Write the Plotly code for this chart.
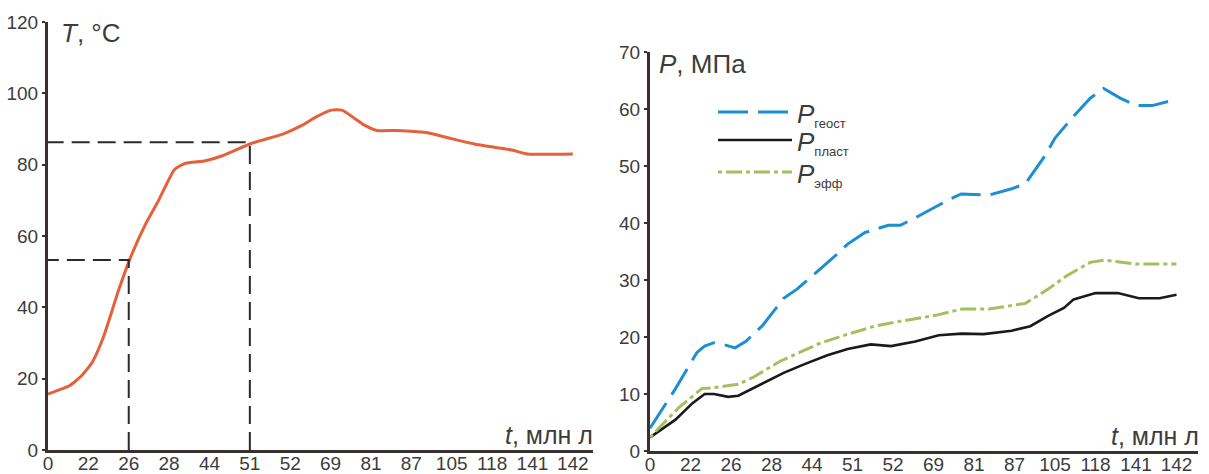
import plotly.graph_objects as go

# ---- data ----
t_labels = ["0", "22", "26", "28", "44", "51", "52", "69", "81", "87", "105", "118", "141", "142"]
t_ticks = list(range(len(t_labels)))  # tick index positions on the time scale

# Temperature curve (x in time-tick units)
T_x = [0, 0.53, 0.83, 1.1, 1.38, 1.74, 2.03, 2.41, 2.74, 3.13, 3.38, 3.9, 4.32, 5.05, 5.8,
       6.29, 6.61, 7.02, 7.28, 7.85, 8.14, 8.64, 9.37, 9.95, 10.56, 11.49, 11.88, 13]
T_y = [15.7, 18.0, 20.8, 24.7, 31.9, 44.5, 53.6, 63.2, 70.0, 78.6, 80.3, 81.1, 82.5, 86.0, 88.5,
       91.0, 93.2, 95.3, 95.3, 91.0, 89.6, 89.6, 89.0, 87.4, 85.8, 84.1, 83.0, 83.0]

# marked moments (26 and 51 Ma)
mark_x = [2, 5]
mark_T = [53.3, 86.3]

# Pressures
Pg_x = [0, 0.63, 1.16, 1.35, 1.58, 1.81, 2.10, 2.36, 2.79, 3.3, 3.63, 4.2, 4.55, 4.88, 5.3, 5.88,
        6.18, 6.55, 7.05, 7.3, 7.68, 8.37, 8.93, 9.27, 9.76, 10.0, 10.43, 10.87, 11.2, 11.61,
        12.0, 12.4, 13]
Pg_y = [4.0, 10.95, 17.3, 18.4, 19.0, 18.7, 18.1, 19.2, 22.1, 26.8, 28.4, 31.9, 34.1, 36.3, 38.3,
        39.6, 39.6, 40.9, 42.9, 43.8, 45.1, 44.9, 46.0, 46.9, 51.9, 54.9, 58.5, 61.9, 63.6, 61.9,
        60.6, 60.6, 61.7]

Pe_x = [0, 0.71, 1.28, 1.56, 1.86, 2.18, 2.54, 3.2, 3.63, 4.2, 4.88, 5.55, 6.13, 7.05, 7.7, 8.37,
        9.27, 9.83, 10.28, 10.87, 11.23, 12.0, 13]
Pe_y = [2.4, 7.6, 10.95, 11.1, 11.4, 11.7, 12.9, 15.7, 17.1, 18.9, 20.5, 21.9, 22.7, 23.8, 24.9,
        24.9, 25.9, 28.4, 30.7, 33.1, 33.5, 32.8, 32.8]

Pp_x = [0, 0.63, 1.05, 1.35, 1.58, 1.93, 2.18, 2.54, 3.3, 3.8, 4.38, 4.88, 5.45, 5.95, 6.55, 7.13,
        7.7, 8.24, 8.93, 9.39, 9.83, 10.22, 10.46, 11.0, 11.55, 12.07, 12.58, 13]
Pp_y = [2.4, 5.5, 8.4, 10.0, 10.0, 9.5, 9.7, 11.0, 13.7, 15.2, 16.8, 17.9, 18.7, 18.4, 19.2, 20.3,
        20.6, 20.5, 21.1, 21.9, 23.7, 25.1, 26.6, 27.7, 27.7, 26.8, 26.8, 27.4]

T_ticks = [0, 20, 40, 60, 80, 100, 120]
P_ticks = [0, 10, 20, 30, 40, 50, 60, 70]

# ---- styles ----
W, H = 1209, 474
AX = "#3a302e"
TXT = "#3c3c3c"
FONT = "Liberation Sans, Arial, sans-serif"
C_T = "#e5603b"
C_G = "#1b8fd0"
C_P = "#1a1a1a"
C_E = "#a3c060"

fig = go.Figure()

# left panel
fig.add_trace(go.Scatter(x=T_x, y=T_y, mode="lines", line=dict(color=C_T, width=3, shape="spline", smoothing=0.5),
                         xaxis="x", yaxis="y", showlegend=False))
for mx, mt in zip(mark_x, mark_T):
    fig.add_trace(go.Scatter(x=[mx, mx, 0], y=[0, mt, mt], mode="lines",
                             line=dict(color="#2a2a2a", width=2, dash="18px,8px"),
                             xaxis="x", yaxis="y", showlegend=False))

# right panel
fig.add_trace(go.Scatter(x=Pp_x, y=Pp_y, mode="lines", line=dict(color=C_P, width=2.6),
                         xaxis="x2", yaxis="y2", showlegend=False))
fig.add_trace(go.Scatter(x=Pe_x, y=Pe_y, mode="lines", line=dict(color=C_E, width=3, dash="4px,4px,16px,4px"),
                         xaxis="x2", yaxis="y2", showlegend=False))
fig.add_trace(go.Scatter(x=Pg_x, y=Pg_y, mode="lines", line=dict(color=C_G, width=3, dash="30px,10px"),
                         xaxis="x2", yaxis="y2", showlegend=False))

def px_x(p):
    return p / W

def px_y(p):
    return 1 - p / H

xcommon = dict(tickmode="array", tickvals=t_ticks, ticktext=t_labels, showgrid=False, zeroline=False,
               showline=True, linecolor=AX, linewidth=3, ticks="", tickfont=dict(size=19, color=TXT, family=FONT),
               ticklabelstandoff=-6, fixedrange=True, automargin=False)
ycommon = dict(tickmode="array", showgrid=False, zeroline=False, showline=True, linecolor=AX, linewidth=3,
               ticks="outside", ticklen=3, tickwidth=2, tickcolor=AX,
               tickfont=dict(size=19, color=TXT, family=FONT), fixedrange=True, automargin=False)

fig.update_layout(
    width=W, height=H, margin=dict(l=0, r=0, t=0, b=0, autoexpand=False),
    paper_bgcolor="white", plot_bgcolor="white", font=dict(family=FONT, color=TXT),
    xaxis=dict(domain=[px_x(48), px_x(593)], range=[0, 13.5], anchor="y", **xcommon),
    yaxis=dict(domain=[px_y(450), px_y(22)], range=[0, 120], tickvals=T_ticks, anchor="x", **ycommon),
    xaxis2=dict(domain=[px_x(650), px_x(1198)], range=[0, 13.53], anchor="y2", **xcommon),
    yaxis2=dict(domain=[px_y(451), px_y(52)], range=[0, 70], tickvals=P_ticks, anchor="x2", **ycommon),
)

ann = []
ann.append(dict(text="<i>T</i>, °C", x=px_x(59), y=px_y(33), xref="paper", yref="paper",
                xanchor="left", yanchor="middle", showarrow=False, font=dict(size=26, color=TXT, family=FONT)))
ann.append(dict(text="<i>P</i>, МПа", x=px_x(657), y=px_y(64), xref="paper", yref="paper",
                xanchor="left", yanchor="middle", showarrow=False, font=dict(size=26, color=TXT, family=FONT)))
ann.append(dict(text="<i>t</i>, млн л", x=px_x(595), y=px_y(435), xref="paper", yref="paper",
                xanchor="right", yanchor="middle", showarrow=False, font=dict(size=25, color=TXT, family=FONT)))
ann.append(dict(text="<i>t</i>, млн л", x=px_x(1201), y=px_y(436), xref="paper", yref="paper",
                xanchor="right", yanchor="middle", showarrow=False, font=dict(size=25, color=TXT, family=FONT)))

legend_items = [("геост", C_G, "30px,10px", 112, 3),
                ("пласт", C_P, "solid", 140, 2.6),
                ("эфф", C_E, "4px,4px,16px,4px", 172, 3)]
shapes = []
for name, col, dash, ly, lw in legend_items:
    shapes.append(dict(type="line", xref="paper", yref="paper", x0=px_x(718), x1=px_x(792),
                       y0=px_y(ly), y1=px_y(ly), line=dict(color=col, width=lw, dash=dash)))
    ann.append(dict(text="<i>P</i><sub><span style='font-size:13px'>" + name + "</span></sub>",
                    x=px_x(795), y=px_y(ly + 3), xref="paper", yref="paper", xanchor="left", yanchor="middle",
                    showarrow=False, font=dict(size=26, color=TXT, family=FONT)))

fig.update_layout(annotations=ann, shapes=shapes)
fig.write_html("out.html", config={"displayModeBar": False},
               post_script="document.body.style.margin='0';document.body.style.padding='0';"
                           "document.documentElement.style.overflow='hidden';")
